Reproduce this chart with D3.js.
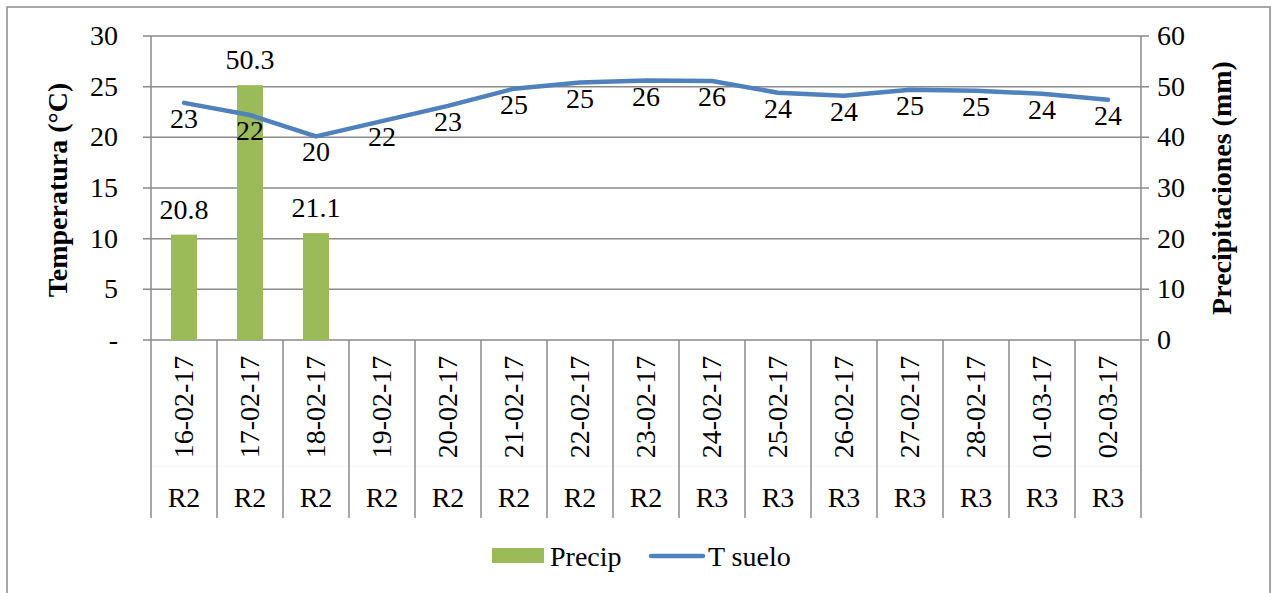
<!DOCTYPE html>
<html>
<head>
<meta charset="utf-8">
<script src="https://cdn.jsdelivr.net/npm/d3@7"></script>
<style>
  html, body { margin: 0; padding: 0; background: #fff; }
  svg { display: block; }
</style>
</head>
<body>
<svg id="chart" width="1271" height="593"></svg>
<script>
// Daily soil temperature and precipitation by phenological stage
const dates = ["16-02-17","17-02-17","18-02-17","19-02-17","20-02-17","21-02-17","22-02-17","23-02-17",
               "24-02-17","25-02-17","26-02-17","27-02-17","28-02-17","01-03-17","02-03-17"];
const stages = ["R2","R2","R2","R2","R2","R2","R2","R2","R3","R3","R3","R3","R3","R3","R3"];
const precip = [20.8, 50.3, 21.1, null, null, null, null, null, null, null, null, null, null, null, null];
const tSuelo = [23.4, 22.2, 20.1, 21.6, 23.1, 24.8, 25.4, 25.6, 25.56, 24.4, 24.1, 24.7, 24.6, 24.3, 23.7];
const tempTicks = [0, 5, 10, 15, 20, 25, 30];
const precipTicks = [0, 10, 20, 30, 40, 50, 60];

const svg = d3.select("#chart");
const M = { left: 151, right: 1141, top: 36, bottom: 340 };
const FONT = 28;
const SERIF = "'Liberation Serif', 'Times New Roman', serif";
const GRID = "#8a8a8a";

// outer frame
svg.append("rect").attr("x", 7).attr("y", 7).attr("width", 1263).attr("height", 600)
  .attr("fill", "#fff").attr("stroke", "#8a8a8a").attr("stroke-width", 1.5);

const x = d3.scaleBand().domain(dates).range([M.left, M.right]).paddingInner(0).paddingOuter(0);
const yT = d3.scaleLinear().domain([0, 30]).range([M.bottom, M.top]);
const yP = d3.scaleLinear().domain([0, 60]).range([M.bottom, M.top]);

// horizontal gridlines with outward ticks on both sides
svg.append("g").selectAll("line").data(tempTicks).join("line")
  .attr("x1", M.left - 8).attr("x2", M.right + 8)
  .attr("y1", d => yT(d)).attr("y2", d => yT(d))
  .attr("stroke", GRID).attr("stroke-width", 1.5);

// faint divider between date row and stage row
svg.append("line").attr("x1", M.left).attr("x2", M.right).attr("y1", 466).attr("y2", 466)
  .attr("stroke", "#f4f4f4").attr("stroke-width", 1);

// vertical axes and category separators
svg.append("line").attr("x1", M.left).attr("x2", M.left).attr("y1", M.top).attr("y2", 518)
  .attr("stroke", GRID).attr("stroke-width", 1.5);
svg.append("line").attr("x1", M.right).attr("x2", M.right).attr("y1", M.top).attr("y2", 518)
  .attr("stroke", GRID).attr("stroke-width", 1.5);
svg.append("g").selectAll("line").data(dates.slice(1)).join("line")
  .attr("x1", d => x(d)).attr("x2", d => x(d))
  .attr("y1", M.bottom).attr("y2", 518)
  .attr("stroke", GRID).attr("stroke-width", 1.5);

const txt = sel => sel.attr("font-family", SERIF).attr("font-size", FONT).attr("fill", "#000");

// left axis labels
svg.append("g").selectAll("text").data(tempTicks).join("text")
  .attr("x", 118).attr("y", d => yT(d) + 9)
  .attr("text-anchor", "end").call(txt)
  .text(d => d === 0 ? "-" : d);

// right axis labels
svg.append("g").selectAll("text").data(precipTicks).join("text")
  .attr("x", 1157).attr("y", d => yP(d) + 9)
  .attr("text-anchor", "start").call(txt)
  .text(d => d);

// axis titles
svg.append("text").attr("transform", `translate(67,${(M.top + M.bottom) / 2 + 2}) rotate(-90)`)
  .attr("text-anchor", "middle").call(txt).attr("font-weight", "bold")
  .text("Temperatura (°C)");
svg.append("text").attr("transform", `translate(1231,${(M.top + M.bottom) / 2}) rotate(-90)`)
  .attr("text-anchor", "middle").call(txt).attr("font-weight", "bold")
  .text("Precipitaciones (mm)");

// category labels: dates (rotated) and stages
svg.append("g").selectAll("text").data(dates).join("text")
  .attr("transform", d => `translate(${x(d) + x.bandwidth() / 2 + 9},407) rotate(-90)`)
  .attr("text-anchor", "middle").call(txt)
  .text(d => d);
svg.append("g").selectAll("text").data(dates).join("text")
  .attr("x", d => x(d) + x.bandwidth() / 2).attr("y", 507)
  .attr("text-anchor", "middle").call(txt)
  .text((d, i) => stages[i]);

// precipitation bars
const barW = 26;
const bars = dates.map((d, i) => ({ d, v: precip[i] })).filter(e => e.v != null);
svg.append("g").selectAll("rect").data(bars).join("rect")
  .attr("x", e => x(e.d) + x.bandwidth() / 2 - barW / 2)
  .attr("y", e => yP(e.v))
  .attr("width", barW)
  .attr("height", e => yP(0) - yP(e.v))
  .attr("fill", "#9BBB59");

// soil temperature line
const line = d3.line().x((v, i) => x(dates[i]) + x.bandwidth() / 2).y(v => yT(v));
svg.append("path").datum(tSuelo).attr("d", line)
  .attr("fill", "none").attr("stroke", "#4F81BD").attr("stroke-width", 4.5)
  .attr("stroke-linejoin", "round").attr("stroke-linecap", "round");

// bar value labels
svg.append("g").selectAll("text").data(bars).join("text")
  .attr("x", e => x(e.d) + x.bandwidth() / 2).attr("y", e => yP(e.v) - 16)
  .attr("text-anchor", "middle").call(txt)
  .text(e => e.v.toFixed(1));

// line value labels
svg.append("g").selectAll("text").data(tSuelo).join("text")
  .attr("x", (v, i) => x(dates[i]) + x.bandwidth() / 2).attr("y", v => yT(v) + 25)
  .attr("text-anchor", "middle").call(txt)
  .text(v => Math.round(v));

// legend
const lg = svg.append("g");
lg.append("rect").attr("x", 492).attr("y", 548).attr("width", 52).attr("height", 15).attr("fill", "#9BBB59");
lg.append("text").attr("x", 550).attr("y", 566).call(txt).text("Precip");
lg.append("line").attr("x1", 651).attr("x2", 703).attr("y1", 556).attr("y2", 556)
  .attr("stroke", "#4F81BD").attr("stroke-width", 4.5).attr("stroke-linecap", "round");
lg.append("text").attr("x", 708).attr("y", 566).call(txt).text("T suelo");
</script>
</body>
</html>
